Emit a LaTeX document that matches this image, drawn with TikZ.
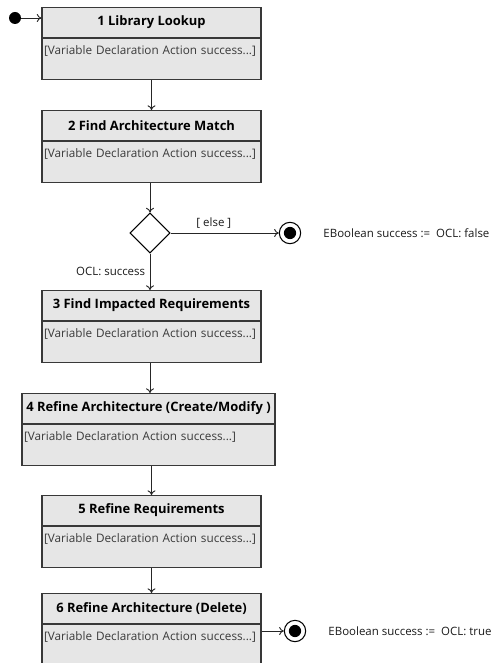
\documentclass[tikz,border=0pt]{standalone}
\usepackage{fontspec}
\setmainfont{Open Sans}
\usetikzlibrary{positioning,shapes.geometric,arrows.meta}

\definecolor{actfill}{HTML}{E6E6E6}
\definecolor{actline}{HTML}{383838}
\definecolor{acttext}{HTML}{3A3A3A}

% one action: title part and body part
\newcommand{\actbox}[5]{%
  \node[acttitle, minimum width=#4, anchor=north] (#1) at (#2,#3) {#5};
  \node[actbody, text width=#4, below=0pt of #1] (#1b) {\hspace*{1.5pt}[Variable Declaration Action success...]};
  \draw[divline] (#1.south west) -- (#1.south east);
}

\begin{document}
\begin{tikzpicture}[x=0.75pt, y=-0.75pt,
    acttitle/.style={draw=actline, fill=actfill, line width=0.8pt, minimum height=22.5pt,
      inner sep=0pt, font=\bfseries\fontsize{9.7}{11}\selectfont},
    actbody/.style={draw=actline, fill=actfill, line width=0.8pt, inner xsep=0pt, inner ysep=2pt,
      text height=10pt, text depth=16.75pt, align=left, text=acttext,
      font=\fontsize{8.8}{10}\selectfont},
    divline/.style={draw=actline, line width=1.4pt},
    decision/.style={diamond, draw=black, line width=0.8pt, fill=white, minimum width=30pt,
      minimum height=30pt, inner sep=0pt},
    initial/.style={circle, fill=black, minimum size=9pt, inner sep=0pt},
    final/.style={circle, draw=black, line width=0.8pt, minimum size=16pt, inner sep=0pt,
      path picture={\fill[black] (path picture bounding box.center) circle (4.6pt);}},
    outlabel/.style={inner sep=0pt, font=\fontsize{8.6}{10}\selectfont, text=black!90},
    flow/.style={draw=black!85, line width=0.7pt, -{To[length=3.5pt, width=6pt]}},
    guard/.style={font=\fontsize{8.6}{10}\selectfont, text=black!90}]
  \useasboundingbox (0,0) rectangle (493,663);

  \node[initial] (start) at (15,18) {};
  \actbox{lookup}{151.5}{7}{164.25pt}{1 Library Lookup}
  \actbox{match}{151.5}{110}{164.25pt}{2 Find Architecture Match}
  \node[decision] (dec) at (150,233) {};
  \actbox{impact}{151.5}{290}{164.25pt}{3 Find Impacted Requirements}
  \actbox{refarch}{148.5}{393}{189.75pt}{4 Refine Architecture (Create/Modify )}
  \actbox{refreq}{151.5}{495}{164.25pt}{5 Refine Requirements}
  \actbox{refdel}{151.5}{593}{164.25pt}{6 Refine Architecture (Delete)}

  \node[final] (failend) at (290,233) {};
  \node[final] (okend) at (295,631) {};
  \node[outlabel, anchor=west, right=16.5pt of failend] (failtxt) {EBoolean success :=\ \ OCL: false};
  \node[outlabel, anchor=west, right=16.5pt of okend] (oktxt) {EBoolean success :=\ \ OCL: true};

  \draw[flow] (start) -- (start -| lookup.west);
  \draw[flow] (lookupb.south) -- (match.north);
  \draw[flow] (dec.north |- matchb.south) -- (dec.north);
  \draw[flow] (dec.south) -- (dec.south |- impact.north)
    node[guard, midway, left] {OCL: success};
  \draw[flow] (dec.east) -- (failend)
    node[guard, pos=0.4, above] {[ else ]};
  \draw[flow] (impactb.south -| dec) -- (dec |- refarch.north);
  \draw[flow] (refreq.north |- refarchb.south) -- (refreq.north);
  \draw[flow] (refreqb.south) -- (refdel.north);
  \draw[flow] (okend -| refdelb.east) -- (okend);
\end{tikzpicture}
\end{document}
